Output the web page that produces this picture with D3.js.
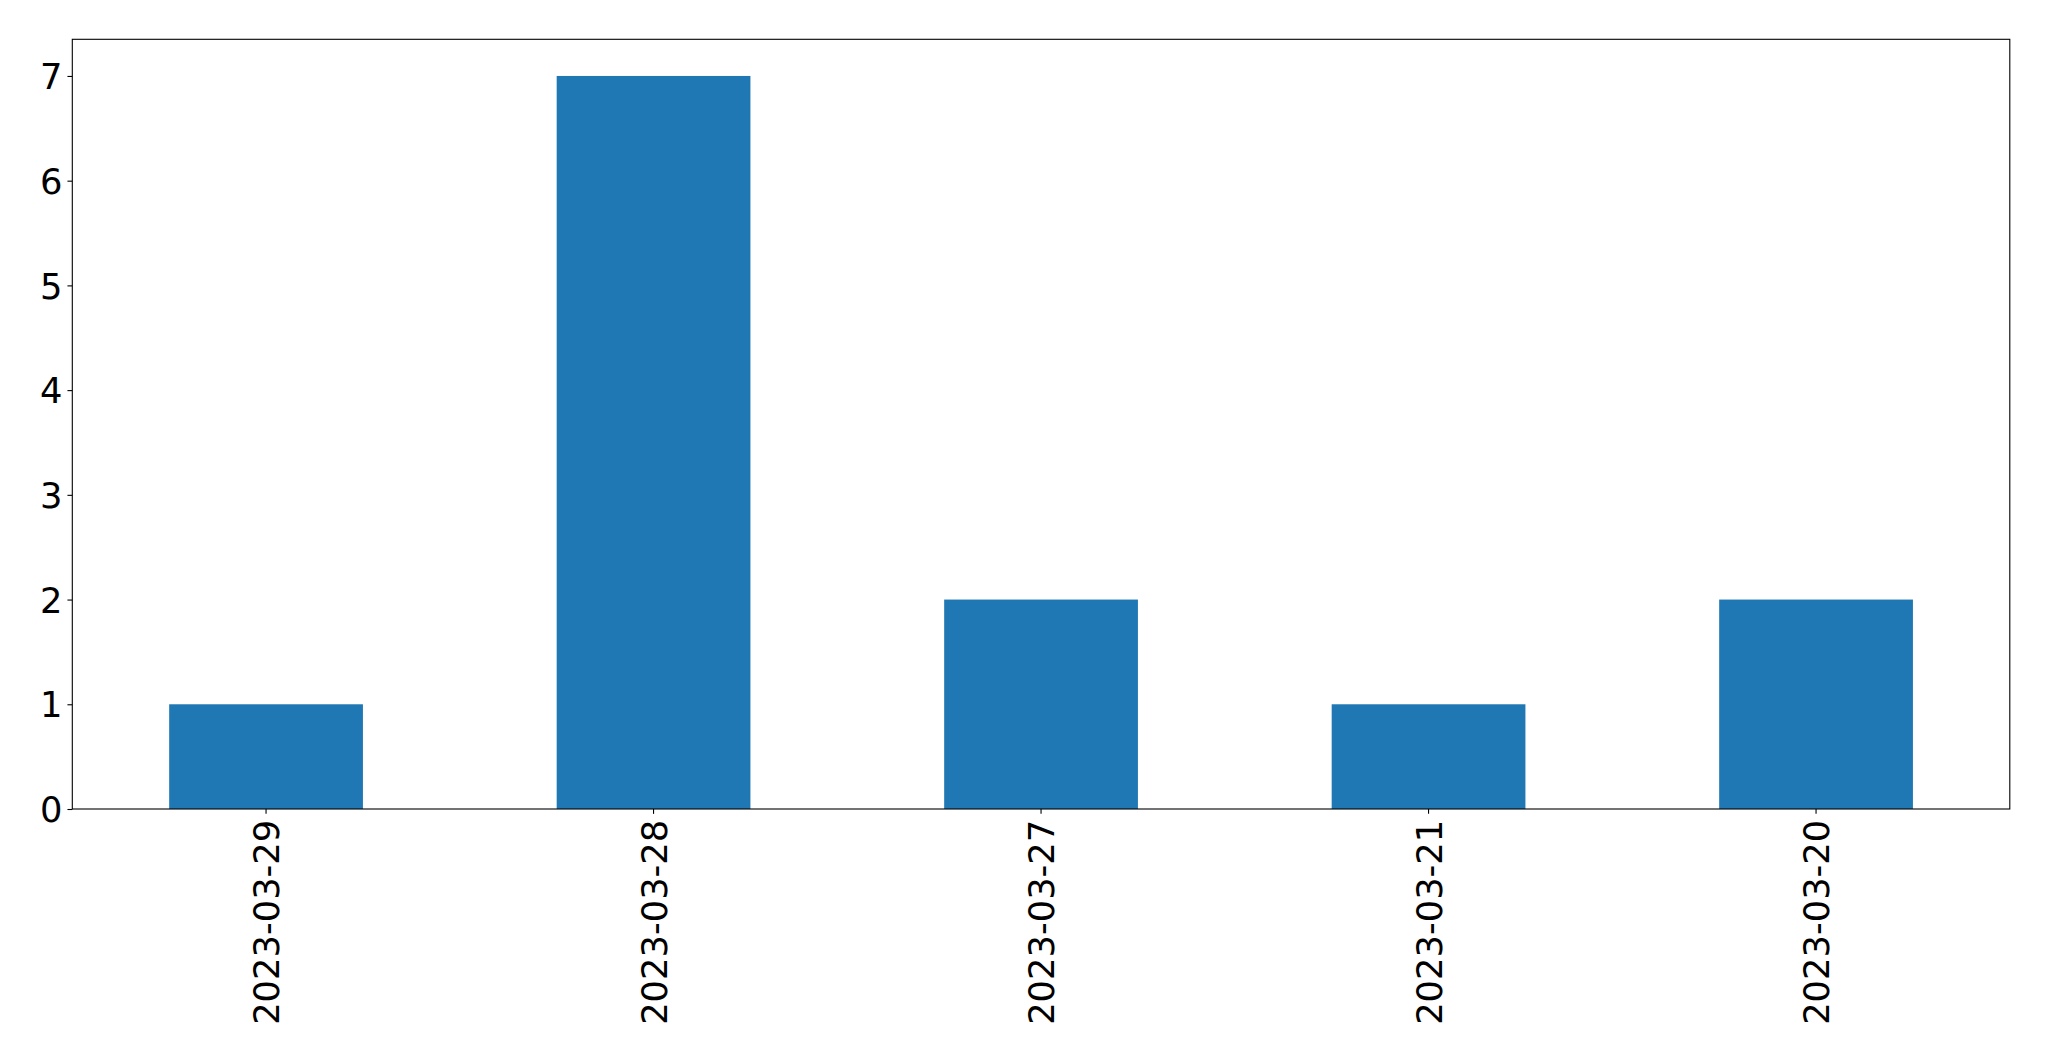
<!DOCTYPE html>
<html>
<head>
<meta charset="utf-8">
<script src="https://cdn.jsdelivr.net/npm/d3@7"></script>
<style>
  html, body { margin: 0; padding: 0; background: #fff; }
  svg { display: block; }
  text { font-family: "DejaVu Sans", sans-serif; }
</style>
</head>
<body>
<svg id="chart" width="2049" height="1061"></svg>
<script>
const categories = ["2023-03-29", "2023-03-28", "2023-03-27", "2023-03-21", "2023-03-20"];
const values = [1, 7, 2, 1, 2];
const yTicks = [0, 1, 2, 3, 4, 5, 6, 7];

(function () {
const mLeft = 72.3, mRight = 2009.8, mTop = 39.3, mBottom = 809;
const fontSize = 35.3;
const tickLen = 4.86, tickPad = 4.86;

const svg = d3.select("#chart");

const x = d3.scaleBand().domain(categories).range([mLeft, mRight])
  .paddingInner(0.5).paddingOuter(0.25);
const y = d3.scaleLinear().domain([0, 7 * 1.05]).range([mBottom, mTop]);

// bars
svg.append("g").selectAll("rect").data(values).join("rect")
  .attr("x", (d, i) => x(categories[i]))
  .attr("y", d => y(d))
  .attr("width", x.bandwidth())
  .attr("height", d => y(0) - y(d))
  .attr("fill", "#1f77b4");

// y axis
const yAxis = svg.append("g").attr("transform", `translate(${mLeft},0)`)
  .call(d3.axisLeft(y).tickValues(yTicks).tickSize(tickLen).tickPadding(tickPad).tickFormat(d3.format("d")));
yAxis.select(".domain").remove();
yAxis.selectAll("line").attr("stroke", "#000").attr("stroke-width", 1.1);
yAxis.selectAll("text").attr("font-size", fontSize).attr("fill", "#000")
  .attr("font-family", "DejaVu Sans, sans-serif").attr("dy", "0.36em");

// x axis
const xAxis = svg.append("g").attr("transform", `translate(0,${mBottom})`)
  .call(d3.axisBottom(x).tickSize(tickLen).tickPadding(tickPad));
xAxis.select(".domain").remove();
xAxis.selectAll("line").attr("stroke", "#000").attr("stroke-width", 1.1);
xAxis.selectAll("text")
  .attr("font-size", fontSize).attr("fill", "#000")
  .attr("font-family", "DejaVu Sans, sans-serif")
  .attr("text-anchor", "end")
  .attr("y", 0).attr("dy", "0.38em")
  .attr("transform", `translate(0,${tickLen + tickPad + 1}) rotate(-90)`);

// spines
svg.append("rect")
  .attr("x", mLeft).attr("y", mTop)
  .attr("width", mRight - mLeft).attr("height", mBottom - mTop)
  .attr("fill", "none").attr("stroke", "#000").attr("stroke-width", 1.1);
})();
</script>
</body>
</html>
